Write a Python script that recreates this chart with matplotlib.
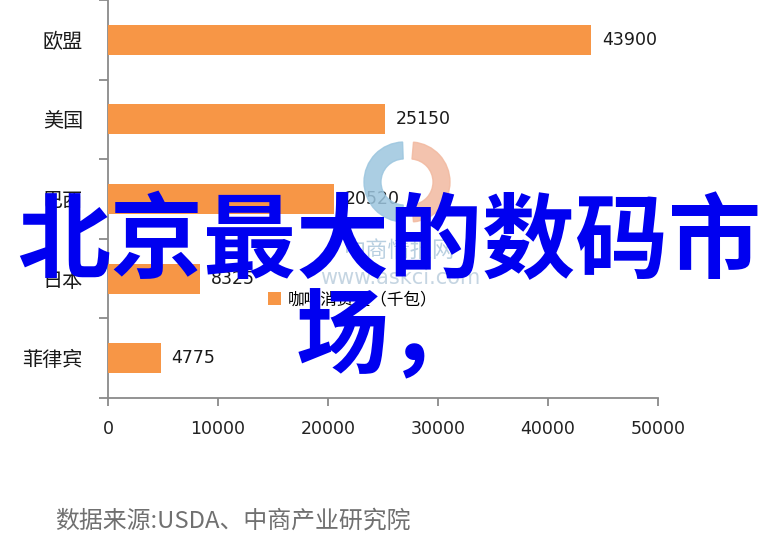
import matplotlib
matplotlib.use("Agg")
import matplotlib.pyplot as plt
from matplotlib.patches import Wedge

plt.rcParams['font.family'] = ['Noto Sans CJK SC', 'DejaVu Sans']

categories = ['欧盟', '美国', '巴西', '日本', '菲律宾']
values = [43900, 25150, 20520, 8325, 4775]
xticks = [0, 10000, 20000, 30000, 40000, 50000]
legend_label = '咖啡消费量（千包）'
overlay_line1 = '北京最大的数码市'
overlay_line2 = '场，'
source_text = '数据来源:USDA、中商产业研究院'

W, H = 777, 548
fig = plt.figure(figsize=(W / 100, H / 100), dpi=100)
fig.patch.set_facecolor('white')
ax = fig.add_axes([108 / W, 1 - 398 / H, 550 / W, 398 / H])

axis_col = '#8a8a8a'
bar_col = '#F79646'

pos = list(range(len(categories)))
bars = ax.barh(pos, values, height=0.375, color=bar_col, zorder=3)
ax.set_ylim(len(categories) - 0.5, -0.5)
ax.set_xlim(0, 50000)

for s in ['top', 'right']:
    ax.spines[s].set_visible(False)
for s in ['left', 'bottom']:
    ax.spines[s].set_color(axis_col)
    ax.spines[s].set_linewidth(1.3)

ax.set_xticks(xticks)
ax.set_xticklabels([str(t) for t in xticks], family='DejaVu Sans', fontsize=12.5, color='#222222')
ax.tick_params(axis='x', length=6, width=1.3, color=axis_col, pad=10)

ax.set_yticks([p - 0.5 for p in pos] + [len(categories) - 0.5])
ax.set_yticklabels([])
ax.tick_params(axis='y', which='major', length=6.5, width=1.3, color=axis_col)
ax.set_yticks(pos, minor=True)
ax.set_yticklabels(categories, minor=True, fontsize=14.5, color='#1a1a1a')
ax.tick_params(axis='y', which='minor', length=0, pad=18)

for b, v in zip(bars, values):
    ax.annotate(str(v), xy=(v, b.get_y() + b.get_height() / 2), xytext=(8, 0),
                textcoords='offset points', va='center', ha='left',
                family='DejaVu Sans', fontsize=12.5, color='#1a1a1a', zorder=4)

# faint watermark logo (drawn in inches so it stays circular)
cx, cy, r, rw = 404, 182, 40, 17
wed1 = Wedge((cx / 100, (H - cy) / 100), r / 100, 92, 268, width=rw / 100,
             transform=fig.dpi_scale_trans, color='#9cc6df', alpha=0.85, zorder=1)
wed2 = Wedge(((cx + 6) / 100, (H - cy) / 100), r / 100, -85, 85, width=rw / 100,
             transform=fig.dpi_scale_trans, color='#f2b9a0', alpha=0.85, zorder=1)
fig.add_artist(wed1)
fig.add_artist(wed2)
fig.text(400 / W, 1 - 250 / H, '中商情报网', ha='center', va='center', fontsize=16,
         color='#b8cfe0', zorder=2)
fig.text(400 / W, 1 - 278 / H, 'www.askci.com', ha='center', va='center', fontsize=15,
         color='#c5d5e2', zorder=2, family='DejaVu Sans')

# legend
leg = ax.legend([bars[0]], [legend_label], loc='center left',
                bbox_to_anchor=(268 / W, 1 - 300 / H), bbox_transform=fig.transFigure,
                frameon=False, fontsize=12, handlelength=0.8, handleheight=0.8,
                handletextpad=0.4, borderpad=0, borderaxespad=0)
leg.set_zorder(5)

# overlay title
fig.text(389 / W, 1 - 243 / H, overlay_line1, ha='center', va='center', fontsize=67,
         fontweight='bold', color='#0000f0', zorder=10)
fig.text(389 / W, 1 - 339 / H, overlay_line2, ha='center', va='center', fontsize=67,
         fontweight='bold', color='#0000f0', zorder=10)

# source
fig.text(55 / W, 1 - 521 / H, source_text, ha='left', va='center', fontsize=17.2,
         color='#707070')

fig.savefig('out.png', dpi=100)
